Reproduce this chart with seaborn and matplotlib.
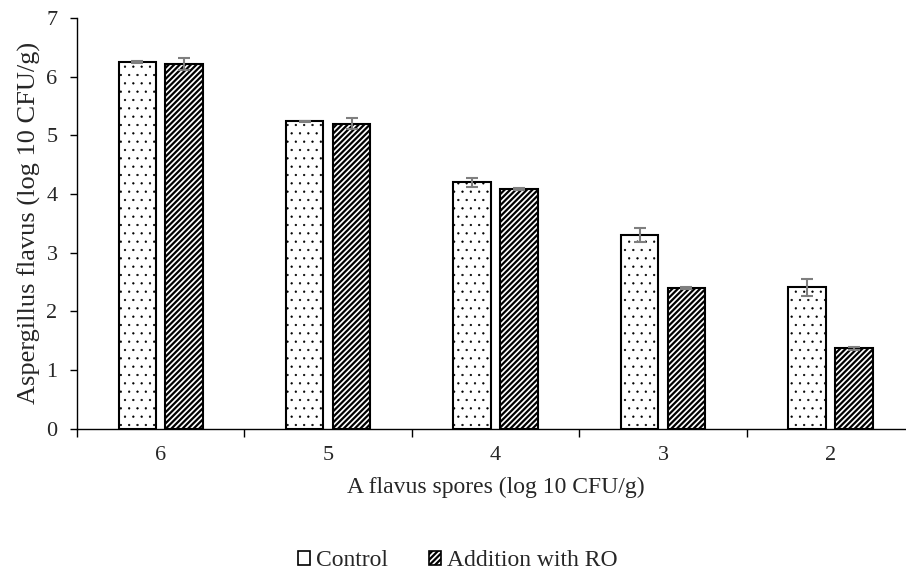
import numpy as np
import pandas as pd
import seaborn as sns
import matplotlib.pyplot as plt
from matplotlib.patches import Patch
from matplotlib.ticker import FixedLocator

# DATA
spores = ["6", "5", "4", "3", "2"]
control = [6.25, 5.24, 4.20, 3.31, 2.41]
control_err = [0.01, 0.01, 0.08, 0.12, 0.14]
addition_ro = [6.21, 5.20, 4.09, 2.40, 1.37]
addition_ro_err = [0.10, 0.09, 0.02, 0.01, 0.02]
groups = ["Control", "Addition with RO"]

df = pd.DataFrame({
    "spores": spores * 2,
    "value": control + addition_ro,
    "group": [groups[0]] * len(spores) + [groups[1]] * len(spores),
})
errs = {groups[0]: control_err, groups[1]: addition_ro_err}
hatches = {groups[0]: "..", groups[1]: "//////"}
hatch_lw = {groups[0]: 0.4, groups[1]: 1.6}

sns.set_style("white")
plt.rcParams["font.family"] = ["Liberation Serif", "DejaVu Serif"]
plt.rcParams["hatch.linewidth"] = 1.6

fig = plt.figure(figsize=(9.06, 5.78), dpi=100)
ax = fig.add_axes([0.085, 0.258, 0.924, 0.711])

sns.barplot(data=df, x="spores", y="value", hue="group", order=spores,
            hue_order=groups, palette=["white", "white"], width=0.56, gap=0.2,
            edgecolor="black", linewidth=1.5, errorbar=None, legend=False, ax=ax)

# hatches + error bars per hue level
for container, name in zip(ax.containers, groups):
    xs, ys = [], []
    for bar in container:
        bar.set_hatch(hatches[name])
        if hasattr(bar, "set_hatch_linewidth"):
            bar.set_hatch_linewidth(hatch_lw[name])
        xs.append(bar.get_x() + bar.get_width() / 2)
        ys.append(bar.get_height())
    ax.errorbar(xs, ys, yerr=errs[name], fmt="none", ecolor="#7f7f7f",
                elinewidth=1.5, capsize=4, capthick=1.5, zorder=5)

ax.set_xlim(-0.5, len(spores) - 0.5)
ax.set_ylim(0, 7)
ax.set_yticks(range(0, 8))
ax.xaxis.set_minor_locator(FixedLocator(np.arange(-0.5, len(spores), 1.0)))
ax.tick_params(axis="x", which="major", length=0, pad=12, labelsize=16)
ax.tick_params(axis="x", which="minor", length=6, width=1, color="black", direction="out", bottom=True)
ax.tick_params(axis="y", length=5, width=1, color="black", direction="out", left=True, labelsize=16, pad=9)

for side in ["top", "right"]:
    ax.spines[side].set_visible(False)
for side in ["left", "bottom"]:
    ax.spines[side].set_color("black")
    ax.spines[side].set_linewidth(1)

ax.set_xlabel("A flavus spores (log 10 CFU/g)", fontsize=17, labelpad=9)
ax.set_ylabel("Aspergillus flavus (log 10 CFU/g)", fontsize=19, labelpad=4)

handles = [Patch(facecolor="white", edgecolor="black", linewidth=1.2),
           Patch(facecolor="white", edgecolor="black", linewidth=1.2, hatch="//////")]
fig.legend(handles, groups, loc="center", bbox_to_anchor=(0.505, 0.03), ncol=2, frameon=False,
           fontsize=17, handlelength=0.5, handleheight=0.5, handletextpad=0.25, columnspacing=1.75)

plt.savefig("out.png", dpi=100)
